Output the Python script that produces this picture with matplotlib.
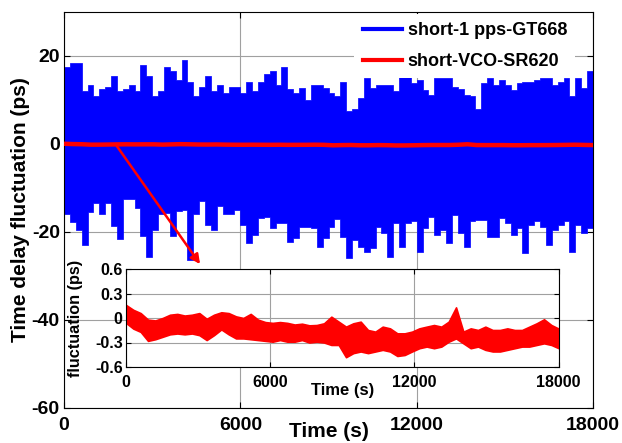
import numpy as np
import matplotlib
matplotlib.use('Agg')
import matplotlib.pyplot as plt
from matplotlib.lines import Line2D

# огибающая синего сигнала (short-1 pps-GT668), бины по 200 с, ps
blue_hi = [17.5, 18.5, 18.5, 12, 13.3, 11, 12.5, 13, 15.5, 12,
           12.5, 13.5, 12, 18, 15.5, 11, 12, 17.5, 16.5, 14.5,
           19, 14, 11, 13, 15.5, 12, 13.5, 11.5, 13, 13,
           11.5, 14, 12, 14, 15.8, 16.5, 13.5, 17.6, 12.5, 11.5,
           12.7, 10, 13.5, 13.3, 12.7, 11.5, 11, 14, 7.5, 8,
           10.5, 15, 12.7, 13.5, 13.5, 13.5, 12, 15.3, 15.3, 13.8,
           14.6, 12.3, 11.1, 14.9, 15, 15, 13, 12.5, 11.1, 11,
           8, 13.8, 15, 13.5, 14.6, 13.5, 12.3, 13.8, 14, 14.2,
           14.6, 15, 15, 13.5, 14, 15, 11, 15, 12.8, 16.5]
blue_lo = [-16, -17.7, -19.5, -23, -15.5, -13.5, -16, -13.5, -18.7, -21.5,
           -12.5, -12.5, -14.5, -21, -25.6, -19.5, -16, -15.7, -21, -15.3,
           -15, -26.3, -16, -13, -18.5, -19.5, -14, -16, -16, -15,
           -18.4, -22.6, -20.7, -16.9, -16.5, -19.2, -18, -18, -22.2, -21.4,
           -18.8, -18.8, -19, -23.3, -21.4, -18.8, -17, -21.1, -25.9, -21.8,
           -23.3, -24.5, -23.7, -18.8, -20.3, -25.6, -18, -23.3, -18, -17.6,
           -24.5, -19.2, -16.5, -20.7, -19.5, -22.6, -16.1, -20.3, -23.3, -17.6,
           -17.3, -17.3, -21.1, -21.1, -16.9, -18, -20.7, -19.2, -24.8, -18.4,
           -17.6, -18.8, -22.9, -19.5, -18.4, -17.6, -24.5, -18.4, -20.3, -19.2]

# огибающая красного сигнала (short-VCO-SR620), 60 точек, ps
red_hi = [0.16, 0.10, 0.06, -0.02, -0.03, 0.00, 0.04, 0.05, 0.03, 0.04,
          0.06, -0.01, 0.04, 0.07, 0.06, 0.02, 0.00, 0.05, -0.02, -0.05,
          -0.06, -0.05, -0.06, -0.08, -0.07, -0.09, -0.086, -0.065, 0.016, -0.045,
          -0.106, -0.065, -0.045, -0.147, -0.167, -0.106, -0.127, -0.188, -0.188, -0.167,
          -0.127, -0.106, -0.086, -0.106, -0.045, 0.13, -0.167, -0.127, -0.147, -0.106,
          -0.147, -0.147, -0.127, -0.147, -0.147, -0.106, -0.065, -0.016, -0.086, -0.13]
red_lo = [-0.06, -0.13, -0.17, -0.28, -0.26, -0.23, -0.20, -0.19, -0.20, -0.19,
          -0.21, -0.27, -0.21, -0.14, -0.20, -0.25, -0.25, -0.26, -0.27, -0.28,
          -0.29, -0.27, -0.29, -0.29, -0.27, -0.30, -0.29, -0.30, -0.33, -0.33,
          -0.48, -0.43, -0.41, -0.43, -0.41, -0.39, -0.41, -0.465, -0.453, -0.41,
          -0.37, -0.35, -0.37, -0.35, -0.29, -0.25, -0.31, -0.37, -0.35, -0.39,
          -0.41, -0.41, -0.39, -0.37, -0.35, -0.35, -0.33, -0.31, -0.33, -0.37]

labels = ['short-1 pps-GT668', 'short-VCO-SR620']
x_ticks = [0, 6000, 12000, 18000]
y_ticks = [-60, -40, -20, 0, 20]
in_yticks = [-0.6, -0.3, 0, 0.3, 0.6]
in_ylabels = ['-0.6', '-0.3', '0', '0.3', '0.6']

plt.rcParams['font.family'] = ['Liberation Sans', 'DejaVu Sans']
plt.rcParams['font.weight'] = 'bold'
plt.rcParams['axes.unicode_minus'] = False

fig = plt.figure(figsize=(6.22, 4.43), dpi=100)
ax = fig.add_axes([64/622, 1-408/443, 529/622, 396/443])

t_edges = np.linspace(0, 18000, len(blue_hi) + 1)
ax.fill_between(t_edges, np.append(blue_hi, blue_hi[-1]), np.append(blue_lo, blue_lo[-1]),
                step='post', color='blue', lw=0.5, zorder=2)

red_t = np.linspace(0, 18000, len(red_hi))
red_mid = (np.array(red_hi) + np.array(red_lo)) / 2
ax.plot(red_t, red_mid, color='red', lw=3.2, zorder=3)

ax.annotate('', xy=(4630, -27.3), xytext=(1790, -0.4),
            arrowprops=dict(arrowstyle='-|>', color='red', lw=1.8, mutation_scale=14,
                            shrinkA=0, shrinkB=0), zorder=4)

ax.set_xlim(0, 18000)
ax.set_ylim(-60, 30)
ax.set_xticks(x_ticks)
ax.set_yticks(y_ticks)
ax.grid(True, color='#a0a0a0', lw=0.8)
ax.set_axisbelow(True)
ax.tick_params(direction='in', top=True, right=True, length=4, labelsize=14)
ax.tick_params(axis='x', pad=6.3)
ax.tick_params(axis='y', pad=3)
ax.set_xlabel('Time (s)', fontsize=15, fontweight='bold')
ax.set_ylabel('Time delay fluctuation (ps)', fontsize=15, fontweight='bold')
ax.xaxis.set_label_coords(0.5, -0.035)
ax.yaxis.set_label_coords(-0.064, 0.5)

handles = [Line2D([], [], color='blue', lw=3), Line2D([], [], color='red', lw=3)]
leg = ax.legend(handles, labels, loc='upper right', bbox_to_anchor=(1 - 16/529, 1),
                fontsize=13, frameon=True, facecolor='white', edgecolor='none',
                framealpha=1, fancybox=False, borderaxespad=0.1, borderpad=0.45,
                handlelength=2.2, handletextpad=0.3, labelspacing=0.78)
leg.set_zorder(5)

# вставка
axin = fig.add_axes([126/622, 1-367/443, 432.7/622, 98/443])
axin.fill_between(red_t, red_hi, red_lo, color='red', lw=1.2, zorder=2)
axin.set_xlim(0, 18000)
axin.set_ylim(-0.6, 0.6)
axin.set_xticks(x_ticks)
axin.set_yticks(in_yticks)
axin.set_yticklabels(in_ylabels)
axin.grid(True, color='#a0a0a0', lw=0.8)
axin.set_axisbelow(True)
axin.tick_params(direction='in', top=True, right=True, length=3.5, labelsize=11.5)
axin.tick_params(axis='x', pad=5.8)
axin.tick_params(axis='y', pad=2.4)
axin.set_xlabel('Time (s)', fontsize=12, fontweight='bold')
axin.set_ylabel('fluctuation (ps)', fontsize=11.7, fontweight='bold')
axin.xaxis.set_label_coords(0.5, -0.16)
axin.yaxis.set_label_coords(-0.10, 0.5)

fig.savefig('out.png', dpi=100)
